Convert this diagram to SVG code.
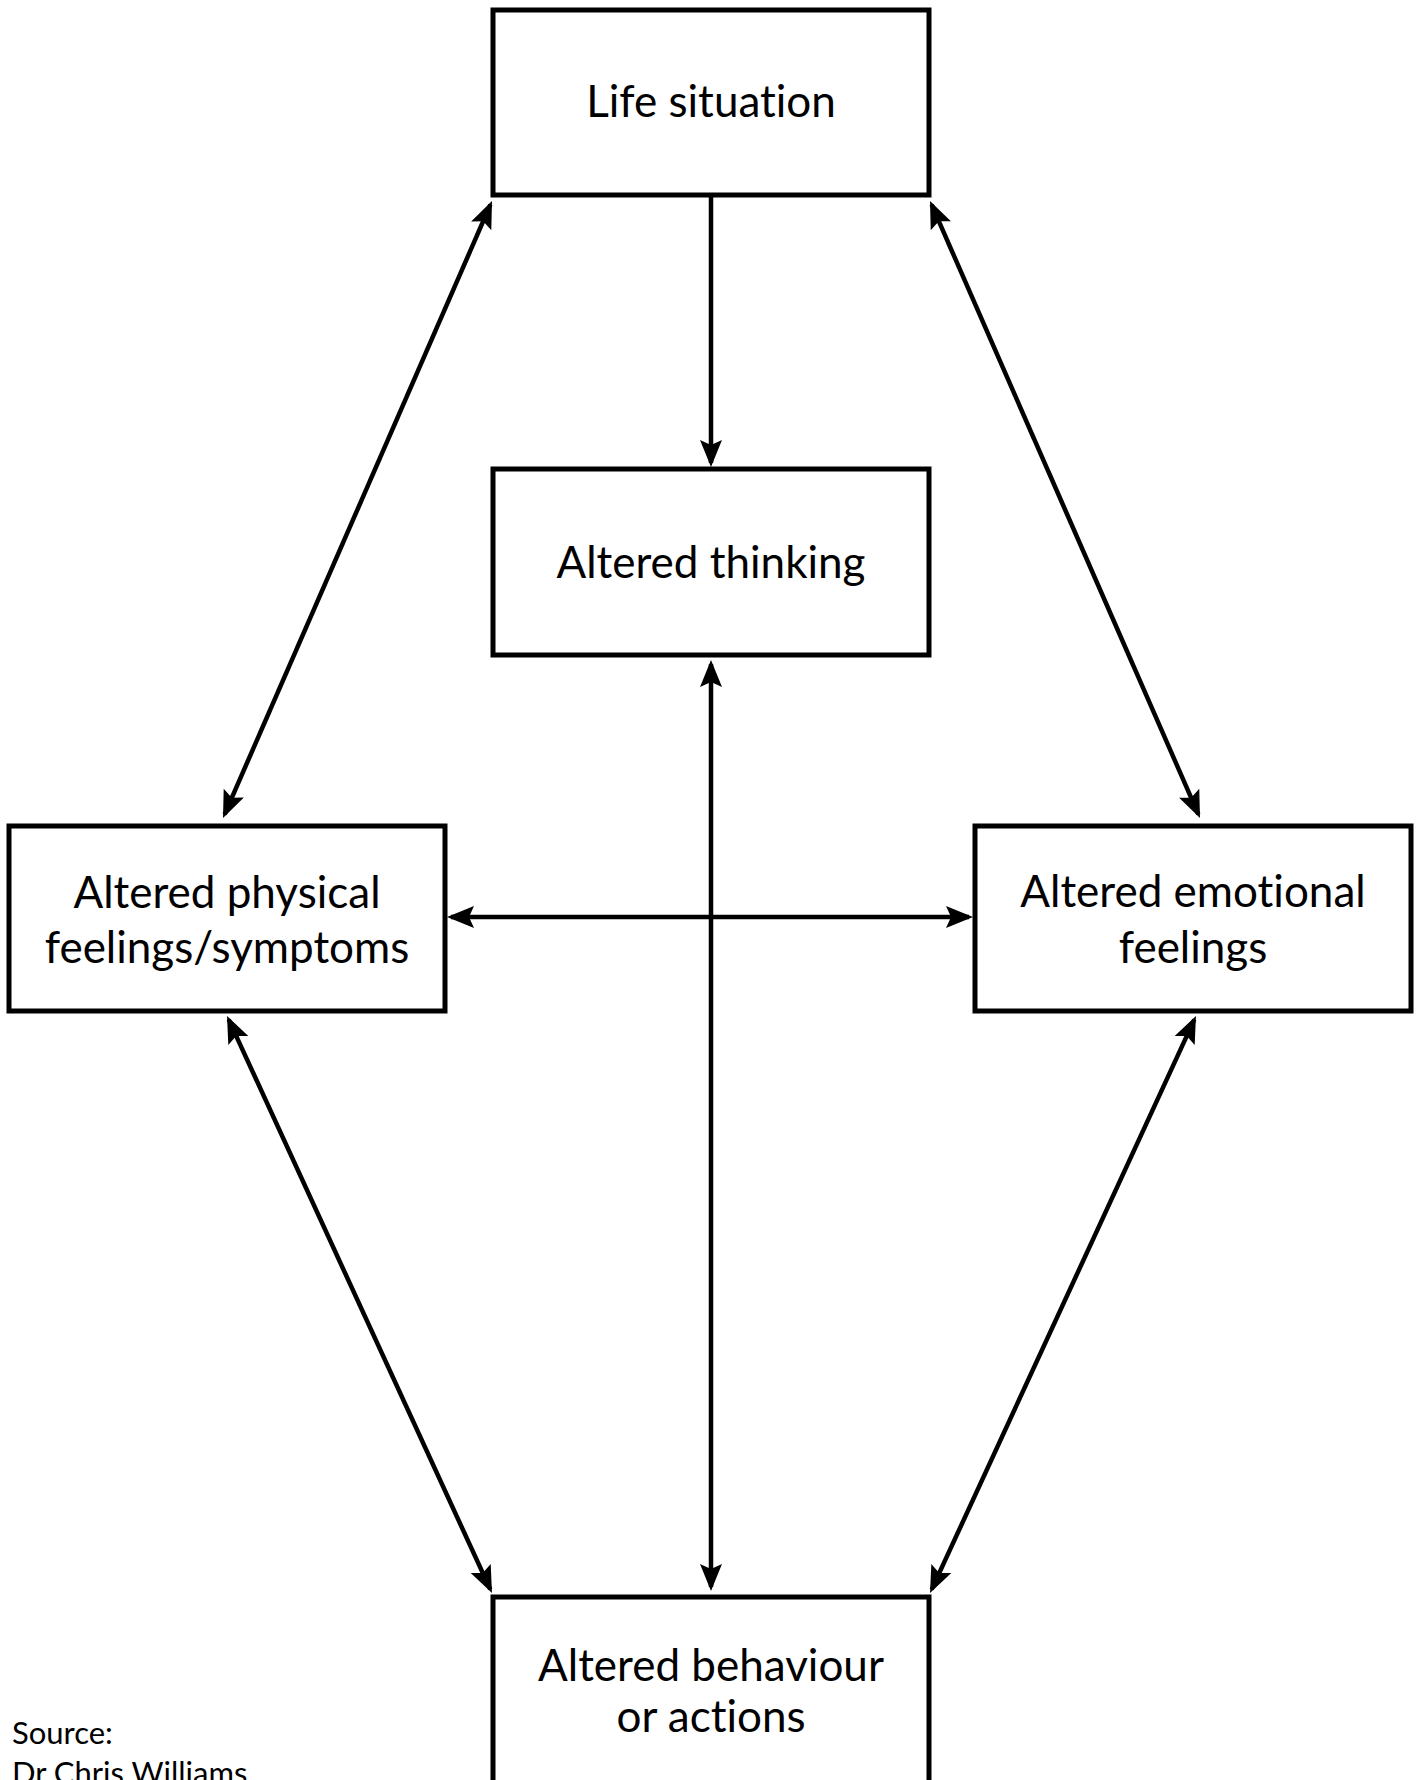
<svg xmlns="http://www.w3.org/2000/svg" width="1421" height="1780" viewBox="0 0 1421 1780">
<style>
.box{fill:#fff;stroke:#000;stroke-width:5}
.lbl{font-family:Lato,"Open Sans","Liberation Sans",sans-serif;font-size:44px;fill:#000;text-anchor:middle;font-variant-ligatures:none;font-feature-settings:"liga" 0}
.src{font-family:Lato,"Open Sans","Liberation Sans",sans-serif;font-size:31px;fill:#000;font-variant-ligatures:none}
.con{stroke:#000;stroke-width:4.5;fill:none}
</style>
<defs>
<marker id="ah" markerUnits="userSpaceOnUse" viewBox="-30 -13 36 26" markerWidth="36" markerHeight="26" refX="0" refY="0" orient="auto-start-reverse">
<path d="M4,0 L-23,-11 L-18,0 L-23,11 Z" fill="#000"/>
</marker>
</defs>
<rect width="1421" height="1780" fill="#fff"/>
<g id="connectors">
<line class="con" x1="711" y1="196" x2="711" y2="463" marker-end="url(#ah)"/>
<line class="con" x1="711" y1="664" x2="711" y2="1587" marker-start="url(#ah)" marker-end="url(#ah)"/>
<line class="con" x1="451" y1="917" x2="969" y2="917" marker-start="url(#ah)" marker-end="url(#ah)"/>
<line class="con" x1="224.6" y1="814.3" x2="490.4" y2="204.7" marker-start="url(#ah)" marker-end="url(#ah)"/>
<line class="con" x1="931.6" y1="204.7" x2="1198.4" y2="814.3" marker-start="url(#ah)" marker-end="url(#ah)"/>
<line class="con" x1="228.7" y1="1019.6" x2="490.3" y2="1589.4" marker-start="url(#ah)" marker-end="url(#ah)"/>
<line class="con" x1="1194.3" y1="1019.6" x2="931.7" y2="1589.4" marker-start="url(#ah)" marker-end="url(#ah)"/>
</g>
<g id="life-situation">
<rect class="box" x="493" y="10" width="436" height="185"/>
<text class="lbl" x="711" y="117">Life situation</text>
</g>
<g id="altered-thinking">
<rect class="box" x="493" y="469" width="436" height="186"/>
<text class="lbl" x="711" y="578">Altered thinking</text>
</g>
<g id="altered-physical">
<rect class="box" x="9" y="826" width="436" height="185"/>
<text class="lbl" x="227" y="908">Altered physical</text>
<text class="lbl" x="227" y="963">feelings/symptoms</text>
</g>
<g id="altered-emotional">
<rect class="box" x="975" y="826" width="436" height="185"/>
<text class="lbl" x="1193" y="907">Altered emotional</text>
<text class="lbl" x="1193" y="963">feelings</text>
</g>
<g id="altered-behaviour">
<rect class="box" x="493" y="1597" width="436" height="200"/>
<text class="lbl" x="711" y="1681">Altered behaviour</text>
<text class="lbl" x="711" y="1732">or actions</text>
</g>
<g id="source">
<text class="src" x="12" y="1744">Source:</text>
<text class="src" x="12" y="1784">Dr Chris Williams</text>
</g>
</svg>
